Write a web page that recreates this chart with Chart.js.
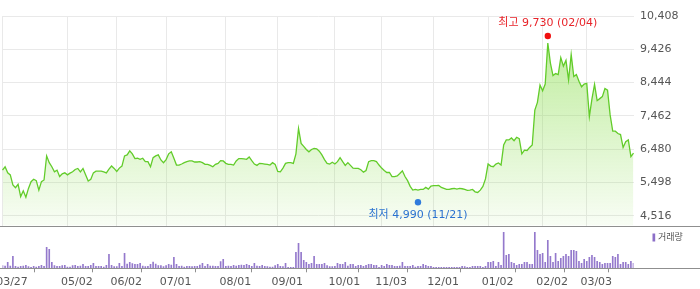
<!DOCTYPE html>
<html><head><meta charset="utf-8">
<script src="https://cdn.jsdelivr.net/npm/chart.js@4/dist/chart.umd.min.js"></script>
<style>
html,body{margin:0;padding:0;background:#fff;}
#wrap{position:relative;width:700px;height:289px;overflow:hidden;}
#wrap canvas{position:absolute;left:0;top:0;}
</style></head>
<body><div id="wrap"><canvas id="cp" width="700" height="289"></canvas><canvas id="cv" width="700" height="289"></canvas></div>
<script>
// ---- data ----
const startDate = '2025-03-27';
const holidays = ['2025-05-01','2025-05-05','2025-05-06','2025-06-03','2025-06-06','2025-08-15','2025-10-03','2025-10-06','2025-10-07','2025-10-08','2025-10-09','2025-12-25','2025-12-31','2026-01-01','2026-02-16','2026-02-17','2026-02-18','2026-03-02'];
const tickLabels = ['03/27','05/02','06/02','07/01','08/01','09/01','10/01','11/03','12/01','01/02','02/02','03/03'];
const priceTicks = [4516,5498,6480,7462,8444,9426,10408];
const price = [
5860,5960,5780,5720,5420,5340,5440,5080,5250,5060,
5320,5520,5590,5550,5270,5520,5570,6280,6080,5960,
5810,5860,5670,5750,5780,5720,5770,5810,5880,5910,
5810,5910,5720,5540,5590,5780,5830,5830,5830,5810,
5780,5890,5980,5910,5820,5920,5980,6280,6310,6430,
6340,6200,6210,6180,6210,6110,6110,5960,6230,6280,
6310,6160,6080,6170,6340,6400,6210,6010,6010,6040,
6080,6110,6130,6130,6100,6100,6110,6080,6030,6030,
6000,5960,6030,6060,6140,6130,6060,6030,6030,6010,
6130,6200,6200,6190,6180,6250,6140,6040,6000,6060,
6050,6040,6030,6010,6080,6030,5820,5810,5920,6060,
6080,6080,6060,6340,7090,6650,6560,6470,6400,6470,
6500,6490,6420,6310,6170,6060,6040,6090,6040,6110,
6230,6110,6000,6080,6000,5920,5910,5910,5870,5800,
5850,6110,6140,6140,6110,6010,5920,5850,5790,5790,
5670,5670,5690,5760,5840,5670,5550,5380,5270,5290,
5270,5290,5290,5350,5300,5390,5400,5400,5410,5350,
5320,5290,5290,5310,5320,5300,5320,5310,5290,5260,
5270,5290,5220,5200,5270,5380,5600,6040,5980,5960,
6040,6070,6010,6600,6750,6750,6810,6730,6830,6790,
6340,6450,6440,6530,6600,7630,7860,8370,8200,8400,
9610,9020,8650,8710,8680,9180,8930,9100,8520,9270,
8620,8680,8480,8320,8400,8420,7440,7960,8390,7910,
7970,8030,8270,8220,7490,7010,7010,6940,6910,6530,
6700,6750,6260,6360];
const volume = [
27,23,60,23,120,20,13,20,23,30,
17,10,20,13,20,30,20,210,190,60,
27,20,20,27,30,13,13,27,30,20,
23,40,20,20,30,50,20,20,20,13,
30,140,30,17,17,50,20,150,43,60,
47,40,40,50,23,17,20,40,63,43,
27,27,17,27,40,33,110,40,20,23,
13,20,20,17,20,20,33,50,20,40,
23,23,20,20,67,90,20,23,20,30,
23,30,33,30,40,30,20,50,23,20,
30,20,17,13,13,27,40,20,17,50,
10,10,10,160,250,160,80,60,40,50,
120,40,40,40,50,27,17,17,20,50,
40,40,60,23,40,40,20,30,30,20,
30,40,40,30,30,10,30,20,40,30,
30,20,20,23,60,20,20,20,30,13,
20,20,40,30,20,20,10,10,10,10,
10,10,10,10,10,10,10,20,17,10,
10,20,20,20,20,10,20,60,60,70,
20,60,30,360,130,140,60,50,30,40,
40,60,60,40,40,360,180,140,150,60,
280,120,60,150,70,100,120,140,120,180,
180,170,70,50,90,70,110,130,110,70,
60,40,50,50,50,120,110,140,40,60,
60,40,70,50];
const hiLabel = '최고 9,730 (02/04)', hiValue = 9730, hiDate = '02/04';
const loLabel = '최저 4,990 (11/21)', loValue = 4990, loDate = '11/21';
const volLegend = '거래량';

// ---- categories (trading days) ----
const dates = [];
(function(){
  const d = new Date(startDate + 'T00:00:00Z');
  while (dates.length < price.length) {
    const iso = d.toISOString().slice(0,10);
    const wd = d.getUTCDay();
    if (wd !== 0 && wd !== 6 && holidays.indexOf(iso) < 0) dates.push(iso.slice(5,7) + '/' + iso.slice(8,10));
    d.setUTCDate(d.getUTCDate() + 1);
  }
})();
const tickIdx = tickLabels.map(l => dates.indexOf(l));

const FONT = "'DejaVu Sans', 'Noto Sans CJK KR', sans-serif";
const fmt = v => String(v).replace(/\B(?=(\d{3})+(?!\d))/g, ',');
const setXTicks = s => { s.ticks = tickIdx.map(v => ({value: v})); };

const fullLine = {
  id: 'fullLine',
  afterDraw(chart) {
    const c = chart.ctx, y = Math.round(chart.chartArea.bottom) + 0.5;
    c.save(); c.strokeStyle = '#8f8f8f'; c.lineWidth = 1;
    c.beginPath(); c.moveTo(0, y); c.lineTo(chart.width, y); c.stroke(); c.restore();
  }
};

const marks = {
  id: 'marks',
  afterDatasetsDraw(chart) {
    const c = chart.ctx, xs = chart.scales.x, ys = chart.scales.y;
    c.save();
    c.font = '11px ' + FONT; c.textAlign = 'center'; c.textBaseline = 'middle';
    const hx = xs.getPixelForValue(dates.indexOf(hiDate)), hy = ys.getPixelForValue(hiValue) - 3;
    c.fillStyle = '#f01010'; c.beginPath(); c.arc(hx, hy, 3.2, 0, Math.PI*2); c.fill();
    c.fillStyle = '#e8242a'; c.fillText(hiLabel, hx, hy - 12.5);
    const lx = xs.getPixelForValue(dates.indexOf(loDate)), ly = ys.getPixelForValue(loValue) + 2.7;
    c.fillStyle = '#2f7bdc'; c.beginPath(); c.arc(lx, ly, 3.2, 0, Math.PI*2); c.fill();
    c.fillStyle = '#2a72d0'; c.fillText(loLabel, lx, ly + 12.7);
    c.restore();
  }
};

new Chart(document.getElementById('cp'), {
  type: 'line',
  data: { labels: dates, datasets: [{
    data: price, borderColor: '#62cc2a', borderWidth: 1.3, pointRadius: 0, tension: 0,
    fill: 'start',
    backgroundColor: (ctx) => {
      const ca = ctx.chart.chartArea; if (!ca) return 'rgba(150,225,90,0.3)';
      const g = ctx.chart.ctx.createLinearGradient(0, ca.top, 0, ca.bottom);
      g.addColorStop(0, 'rgba(140,222,80,0.62)');
      g.addColorStop(1, 'rgba(140,222,80,0.06)');
      return g;
    }
  }]},
  options: {
    responsive: false, animation: false, events: [],
    layout: { padding: { left: 2.5, top: 16, right: 0, bottom: 63.3 } },
    plugins: { legend: { display: false }, tooltip: { enabled: false } },
    scales: {
      x: { type: 'category', offset: false,
        grid: { color: '#e9e9e9', drawTicks: false }, border: { display: false },
        ticks: { display: false, autoSkip: false },
        afterBuildTicks: setXTicks,
        afterFit: s => { s.height = 0; s.paddingLeft = 0; s.paddingRight = 0; } },
      y: { position: 'right', min: 4220, max: 10408,
        grid: { color: '#e9e9e9', drawTicks: false }, border: { display: false },
        afterBuildTicks: s => { s.ticks = priceTicks.map(v => ({value: v})); },
        ticks: { padding: 6.5, color: '#555', font: { family: FONT, size: 11 }, callback: v => fmt(v) },
        afterFit: s => { s.width = 66.5; s.paddingTop = 0; s.paddingBottom = 0; } }
    }
  },
  plugins: [fullLine, marks]
});

const legendPlugin = {
  id: 'volLegend',
  afterDraw(chart) {
    const c = chart.ctx;
    c.save();
    c.fillStyle = '#8c6fc8'; c.fillRect(652.5, 233.5, 2.7, 8);
    c.fillStyle = '#555'; c.font = '9px ' + FONT; c.textAlign = 'left'; c.textBaseline = 'middle';
    c.fillText(volLegend, 658, 237.5);
    c.restore();
  }
};

new Chart(document.getElementById('cv'), {
  type: 'bar',
  data: { labels: dates, datasets: [{ data: volume, backgroundColor: '#9479cc', barThickness: 1 }] },
  options: {
    responsive: false, animation: false, events: [],
    layout: { padding: { left: 2.5, top: 228.3, right: 66.5, bottom: 0 } },
    plugins: { legend: { display: false }, tooltip: { enabled: false } },
    scales: {
      x: { type: 'category', offset: false,
        grid: { drawOnChartArea: false, drawTicks: true, tickLength: 4, color: '#8f8f8f' },
        border: { display: false },
        ticks: { autoSkip: false, maxRotation: 0, padding: 3, labelOffset: 9.5, color: '#555', font: { family: FONT, size: 11 } },
        afterBuildTicks: setXTicks,
        afterFit: s => { s.height = 20.7; s.paddingLeft = 0; s.paddingRight = 0; } },
      y: { display: false, min: 0, max: 400 }
    }
  },
  plugins: [fullLine, legendPlugin]
});
</script></body></html>
